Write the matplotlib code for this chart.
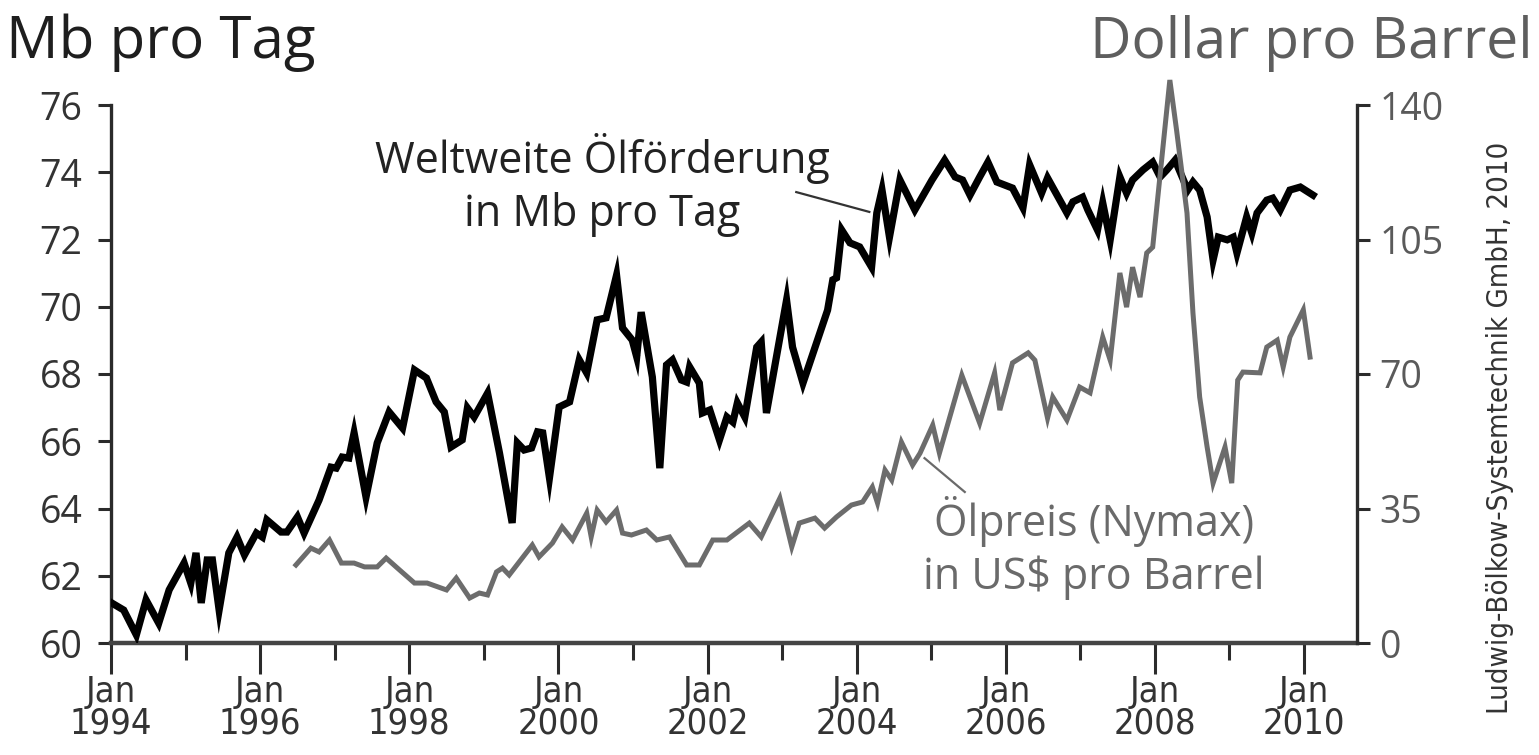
import matplotlib
matplotlib.use("Agg")
import matplotlib.pyplot as plt
from matplotlib import font_manager

# ----------------------------
# Data
# ----------------------------

# world oil production, Mb per day
prod_year = [
    1994.01, 1994.17, 1994.34, 1994.47, 1994.64, 1994.78, 1994.98, 1995.07, 1995.14, 1995.21,
    1995.29, 1995.36, 1995.45, 1995.58, 1995.69, 1995.79, 1995.95, 1996.03, 1996.09, 1996.28,
    1996.36, 1996.50, 1996.59, 1996.79, 1996.95, 1997.02, 1997.10, 1997.19, 1997.26, 1997.42,
    1997.57, 1997.73, 1997.91, 1998.07, 1998.23, 1998.36, 1998.47, 1998.56, 1998.71, 1998.78,
    1998.87, 1999.05, 1999.21, 1999.38, 1999.45, 1999.54, 1999.64, 1999.72, 1999.79, 1999.88,
    2000.01, 2000.15, 2000.28, 2000.38, 2000.52, 2000.64, 2000.78, 2000.86, 2000.99, 2001.05,
    2001.11, 2001.26, 2001.36, 2001.45, 2001.53, 2001.65, 2001.72, 2001.76, 2001.89, 2001.93,
    2002.03, 2002.16, 2002.26, 2002.34, 2002.40, 2002.50, 2002.66, 2002.72, 2002.79, 2003.06,
    2003.14, 2003.28, 2003.61, 2003.68, 2003.73, 2003.80, 2003.91, 2004.04, 2004.20, 2004.27,
    2004.34, 2004.44, 2004.58, 2004.78, 2005.01, 2005.18, 2005.32, 2005.42, 2005.52, 2005.65,
    2005.76, 2005.88, 2006.09, 2006.23, 2006.32, 2006.48, 2006.56, 2006.82, 2006.90, 2007.03,
    2007.10, 2007.23, 2007.30, 2007.40, 2007.53, 2007.62, 2007.70, 2007.84, 2007.97, 2008.07,
    2008.16, 2008.27, 2008.44, 2008.51, 2008.60, 2008.70, 2008.78, 2008.85, 2008.97, 2009.05,
    2009.10, 2009.23, 2009.30, 2009.37, 2009.50, 2009.58, 2009.68, 2009.81, 2009.95, 2010.12,
]
prod_mb = [
    61.19, 60.98, 60.24, 61.28, 60.59, 61.58, 62.38, 61.78, 62.68, 61.19,
    62.47, 62.47, 60.98, 62.68, 63.15, 62.62, 63.27, 63.15, 63.66, 63.30,
    63.30, 63.75, 63.27, 64.25, 65.23, 65.20, 65.53, 65.50, 66.25, 64.34,
    65.95, 66.87, 66.39, 68.12, 67.88, 67.17, 66.87, 65.83, 66.04, 66.99,
    66.72, 67.43, 65.65, 63.57, 65.95, 65.74, 65.80, 66.28, 66.25, 64.91,
    67.02, 67.17, 68.42, 68.03, 69.61, 69.67, 70.94, 69.37, 69.01, 68.51,
    69.84, 67.91, 65.20, 68.27, 68.42, 67.82, 67.76, 68.21, 67.73, 66.84,
    66.93, 66.04, 66.72, 66.57, 67.14, 66.72, 68.80, 68.95, 66.84, 70.20,
    68.80, 67.73, 69.90, 70.80, 70.86, 72.28, 71.90, 71.78, 71.18, 72.79,
    73.47, 72.07, 73.77, 72.88, 73.77, 74.36, 73.86, 73.77, 73.32, 73.86,
    74.30, 73.71, 73.53, 72.94, 74.22, 73.38, 73.83, 72.79, 73.12, 73.26,
    72.88, 72.28, 73.09, 71.99, 73.86, 73.38, 73.77, 74.07, 74.30, 73.86,
    74.07, 74.36, 73.47, 73.71, 73.47, 72.67, 71.39, 72.07, 71.99, 72.07,
    71.60, 72.67, 72.19, 72.79, 73.17, 73.23, 72.88, 73.47, 73.56, 73.32,
]

# oil price (Nymex), US$ per barrel
price_year = [
    1996.48, 1996.68, 1996.79, 1996.93, 1997.09, 1997.26, 1997.40, 1997.57, 1997.69, 1997.87,
    1998.07, 1998.24, 1998.50, 1998.63, 1998.81, 1998.94, 1999.05, 1999.17, 1999.25, 1999.34,
    1999.65, 1999.74, 1999.92, 2000.05, 2000.19, 2000.38, 2000.44, 2000.52, 2000.64, 2000.78,
    2000.86, 2000.98, 2001.18, 2001.32, 2001.49, 2001.72, 2001.89, 2002.07, 2002.26, 2002.56,
    2002.72, 2002.97, 2003.13, 2003.23, 2003.44, 2003.57, 2003.73, 2003.93, 2004.08, 2004.21,
    2004.28, 2004.38, 2004.47, 2004.60, 2004.75, 2004.85, 2005.02, 2005.11, 2005.41, 2005.65,
    2005.85, 2005.92, 2006.09, 2006.30, 2006.39, 2006.56, 2006.63, 2006.82, 2006.99, 2007.13,
    2007.30, 2007.40, 2007.53, 2007.62, 2007.70, 2007.80, 2007.89, 2007.97, 2008.20, 2008.29,
    2008.43, 2008.51, 2008.60, 2008.70, 2008.78, 2008.94, 2009.03, 2009.11, 2009.18, 2009.41,
    2009.50, 2009.64, 2009.72, 2009.81, 2009.99, 2010.08,
]
price_usd = [
    20.3, 24.7, 23.7, 26.8, 20.8, 20.8, 19.8, 19.8, 22.1, 19.0,
    15.6, 15.6, 13.8, 16.9, 11.7, 13.0, 12.5, 18.5, 19.5, 17.7,
    25.5, 22.4, 26.0, 30.2, 26.8, 33.8, 27.6, 34.6, 31.5, 34.6,
    28.6, 28.1, 29.4, 26.8, 27.6, 20.3, 20.3, 26.8, 26.8, 31.2,
    27.6, 37.7, 25.0, 31.2, 32.5, 29.9, 32.8, 35.9, 36.7, 40.6,
    36.4, 45.0, 42.4, 52.3, 46.3, 49.4, 56.7, 49.4, 69.7, 57.2,
    70.3, 60.6, 72.9, 75.5, 73.6, 58.5, 64.0, 58.0, 66.6, 65.1,
    79.6, 73.6, 96.3, 87.4, 97.8, 90.0, 101.5, 103.0, 146.5, 133.5,
    111.9, 85.9, 64.0, 51.0, 41.6, 51.0, 41.6, 68.4, 70.5, 70.3,
    77.0, 78.8, 71.8, 79.6, 86.7, 74.4,
]

left_ticks = [60, 62, 64, 66, 68, 70, 72, 74, 76]
right_ticks = [0, 35, 70, 105, 140]
label_years = [1994, 1996, 1998, 2000, 2002, 2004, 2006, 2008, 2010]
minor_years = [1995, 1997, 1999, 2001, 2003, 2005, 2007, 2009]

# ----------------------------
# Fonts
# ----------------------------

installed = {f.name for f in font_manager.fontManager.ttflist}
main_font = "Open Sans" if "Open Sans" in installed else "DejaVu Sans"
plt.rcParams["font.family"] = [main_font, "DejaVu Sans"]

# a narrow sans for the date labels and the source note, if one is around
narrow_file = None
for f in font_manager.fontManager.ttflist:
    fn = f.fname.lower()
    if ("condensed" in fn or "narrow" in fn) and "bold" not in fn and "italic" not in fn \
            and "oblique" not in fn and "serif" not in fn.replace("sans", "") and "mono" not in fn:
        narrow_file = f.fname
        break

if narrow_file:
    xlab_font = font_manager.FontProperties(fname=narrow_file, size=26)
    note_font = font_manager.FontProperties(fname=narrow_file, size=21)
else:
    xlab_font = font_manager.FontProperties(family="DejaVu Sans", size=22)
    note_font = font_manager.FontProperties(family="DejaVu Sans", size=19)

dark = "#2b2b2b"
grey = "#6c6c6c"

# ----------------------------
# Figure
# ----------------------------

W, H = 1539, 755
fig = plt.figure(figsize=(W / 100, H / 100), dpi=100)
fig.patch.set_facecolor("white")

ax = fig.add_axes([111 / W, 1 - 643 / H, (1357 - 111) / W, (643 - 105) / H])
ax.set_xlim(1994, 2010.71)
ax.set_ylim(60, 76)

ax2 = ax.twinx()
ax2.set_ylim(0, 140)

ax.plot(prod_year, prod_mb, color="black", lw=5.2, solid_joinstyle="miter", zorder=3)
ax2.plot(price_year, price_usd, color=grey, lw=3.6, solid_joinstyle="miter",
         clip_on=False, zorder=3)

for a in (ax, ax2):
    a.spines["top"].set_visible(False)
ax.spines["right"].set_visible(False)
ax2.spines["left"].set_visible(False)
ax2.spines["bottom"].set_visible(False)
ax.spines["left"].set_linewidth(2.4)
ax.spines["left"].set_color(dark)
ax.spines["bottom"].set_linewidth(3.2)
ax.spines["bottom"].set_color("#444444")
ax2.spines["right"].set_linewidth(2.4)
ax2.spines["right"].set_color(dark)

ax.set_yticks(left_ticks)
ax.tick_params(axis="y", direction="out", length=9.5, width=2.2, color=dark,
               labelsize=27, labelcolor="#333333", pad=11)
ax2.set_yticks(right_ticks)
ax2.tick_params(axis="y", direction="out", length=9, width=2.2, color=dark,
                labelsize=27, labelcolor="#5a5a5a", pad=7)

ax.set_xticks(label_years)
ax.set_xticklabels(["Jan\n%d" % y for y in label_years], fontproperties=xlab_font,
                   color="#333333", linespacing=0.9)
ax.set_xticks(minor_years, minor=True)
ax.tick_params(axis="x", which="major", direction="out", length=22, width=2.2,
               color=dark, pad=1)
ax.tick_params(axis="x", which="minor", direction="out", length=12, width=2.2,
               color=dark)

# axis titles
fig.text(6 / W, 1 - 58 / H, "Mb pro Tag", fontsize=42, color="#1e1e1e",
         ha="left", va="baseline")
fig.text(1533 / W, 1 - 58 / H, "Dollar pro Barrel", fontsize=41, color="#5e5e5e",
         ha="right", va="baseline")

# series labels with leader lines
fig.text(602 / W, 1 - 185 / H, "Weltweite Ölförderung\nin Mb pro Tag", fontsize=31,
         color="#222222", ha="center", va="center", linespacing=1.25)
ax.plot([2003.19, 2004.17], [73.41, 72.82], color="#333333", lw=1.6)

fig.text(1094 / W, 1 - 548 / H, "Ölpreis (Nymax)\nin US$ pro Barrel", fontsize=31,
         color="#6a6a6a", ha="center", va="center", linespacing=1.25)
ax2.plot([2004.91, 2005.45], [48.1, 39.3], color="#6a6a6a", lw=1.6)

# source note
fig.text(1500 / W, 1 - 428 / H, "Ludwig-Bölkow-Systemtechnik GmbH, 2010",
         fontproperties=note_font, color="#333333", rotation=90,
         ha="center", va="center")

fig.savefig("out.png", dpi=100, facecolor="white")
